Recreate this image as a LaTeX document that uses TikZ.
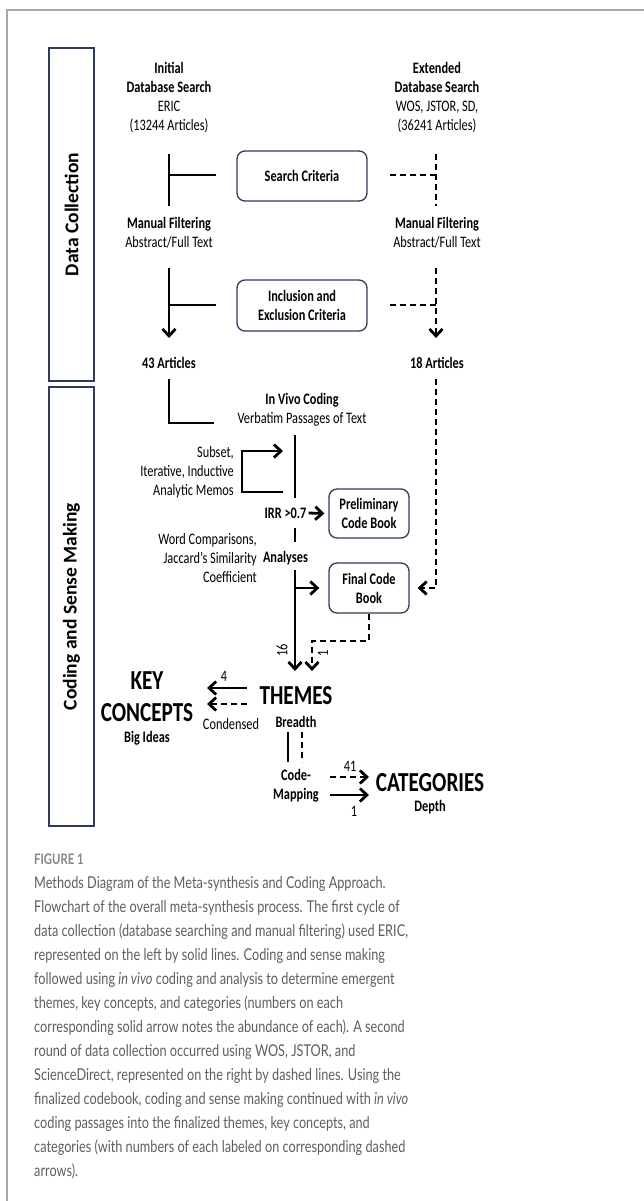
\documentclass[tikz,border=0pt]{standalone}
\usepackage{fontspec}
\setmainfont{Carlito}[FakeStretch=0.77]
\newfontfamily\sidefont{Carlito}
\newfontfamily\capfont{Lato}[FakeStretch=0.78]
\usetikzlibrary{arrows.meta,calc}
\definecolor{navy}{HTML}{2F3B5C}
\definecolor{capgray}{HTML}{5E5E5E}
\definecolor{figgray}{HTML}{858585}
\definecolor{framegray}{HTML}{A8A8A8}
\tikzset{
  txt/.style={font=\fontsize{16}{19}\selectfont, align=center, inner sep=0pt},
  bigtxt/.style={font=\fontsize{27.5}{32}\selectfont\bfseries, align=center, inner sep=0pt},
  cbox/.style={draw=navy, line width=1.3pt, rounded corners=8pt, font=\fontsize{16}{19}\selectfont\bfseries, align=center, inner sep=0pt},
  sidebox/.style={draw=navy, line width=1.3pt, font=\sidefont\fontsize{19.5}{22}\selectfont\bfseries, inner sep=0pt, rotate=90},
  ln/.style={line width=2.8pt},
  dl/.style={line width=2.8pt, dash pattern=on 6pt off 4pt},
  arr/.style={-{Straight Barb[length=7pt,width=13pt]}},
  captxt/.style={font=\capfont\fontsize{16.3}{24}\selectfont, text=capgray, anchor=base west, inner sep=0pt},
}
\begin{document}
\begin{tikzpicture}[x=1pt,y=-1pt]
\useasboundingbox (0,0) rectangle (644,1201);
\draw[framegray, line width=1.2pt] (7,1201) -- (7,10) -- (644,10);

% side boxes
\node[sidebox, minimum width=333pt, minimum height=45pt] (dc) at (71.5,214.5) {Data Collection};
\node[sidebox, minimum width=439pt, minimum height=45pt] (cs) at (71.5,606.5) {Coding and Sense Making};

% column texts
\node[txt] (init) at (169,97) {\textbf{Initial}\\\textbf{Database Search}\\ERIC\\(13244 Articles)};
\node[txt] (ext) at (437,97) {\textbf{Extended}\\\textbf{Database Search}\\WOS, JSTOR, SD,\\(36241 Articles)};
\node[txt] (mf1) at (169,233) {\textbf{Manual Filtering}\\Abstract/Full Text};
\node[txt] (mf2) at (437,233) {\textbf{Manual Filtering}\\Abstract/Full Text};
\node[cbox, minimum width=130pt, minimum height=50pt] (sc) at (302,176) {Search Criteria};
\node[cbox, minimum width=130pt, minimum height=51pt] (inc) at (302,305.5) {Inclusion and\\Exclusion Criteria};
\node[txt, font=\fontsize{16}{19}\selectfont\bfseries] (a43) at (169,363) {43 Articles};
\node[txt, font=\fontsize{16}{19}\selectfont\bfseries] (a18) at (437,363) {18 Articles};
\node[txt] (ivc) at (302,410) {\textbf{In Vivo Coding}\\Verbatim Passages of Text};
\node[txt, align=right, anchor=east] (memo) at (234,472) {Subset,\\Iterative, Inductive\\Analytic Memos};
\node[txt, font=\fontsize{16}{19}\selectfont\bfseries] (irr) at (285.5,513) {IRR >0.7};
\node[cbox, minimum width=80pt, minimum height=49pt] (pre) at (369,513.5) {Preliminary\\Code Book};
\node[txt, align=right, anchor=east] (wc) at (257,558) {Word Comparisons,\\Jaccard's Similarity\\Coefficient};
\node[txt, font=\fontsize{16}{19}\selectfont\bfseries] (ana) at (285.5,558) {Analyses};
\node[cbox, minimum width=80pt, minimum height=50pt] (fcb) at (369,588) {Final Code\\Book};
\node[bigtxt] (themes) at (296,696) {THEMES};
\node[txt, font=\fontsize{16}{19}\selectfont\bfseries] (breadth) at (296,722) {Breadth};
\node[bigtxt] (kc) at (147,697) {KEY\\CONCEPTS};
\node[txt, font=\fontsize{16}{19}\selectfont\bfseries] (bigideas) at (147,738) {Big Ideas};
\node[txt] (cond) at (231,724) {Condensed};
\node[txt] (four) at (224,676) {4};
\node[txt, font=\fontsize{16}{19}\selectfont\bfseries] (cmap) at (296,786) {Code-\\Mapping};
\node[bigtxt] (cat) at (430,783) {CATEGORIES};
\node[txt, font=\fontsize{16}{19}\selectfont\bfseries] (depth) at (430,807) {Depth};
\node[txt] (n41) at (350,766) {41};
\node[txt] (n1b) at (354,811) {1};
\node[txt, rotate=90] (n16) at (282,650) {16};
\node[txt, rotate=90] (n1a) at (323,653) {1};

% coordinates
\coordinate (l1t) at (169,154); \coordinate (l1b) at (169,206); \coordinate (l1m) at (169,175); \coordinate (l1e) at (216,175);
\coordinate (r1t) at (436,154); \coordinate (r1b) at (436,206); \coordinate (r1m) at (436,175); \coordinate (r1e) at (390,175);
\coordinate (l2t) at (169,268); \coordinate (l2b) at (169,338); \coordinate (l2m) at (169,305); \coordinate (l2e) at (216,305);
\coordinate (r2t) at (436,268); \coordinate (r2b) at (436,338); \coordinate (r2m) at (436,305); \coordinate (r2e) at (390,305);
\coordinate (l3t) at (169,379); \coordinate (l3c) at (169,423); \coordinate (l3e) at (214,423);
\coordinate (r3t) at (436,379); \coordinate (r3c) at (436,588);
\coordinate (c1t) at (295,435); \coordinate (c1b) at (295,498);
\coordinate (lpa) at (283,492); \coordinate (lpb) at (242,492); \coordinate (lpc) at (242,451); \coordinate (lpd) at (283,451);
\coordinate (c2t) at (295,528); \coordinate (c2b) at (295,542);
\coordinate (c3t) at (295,570); \coordinate (c3m) at (295,588); \coordinate (c3b) at (295,671);
\coordinate (fd1) at (369,641); \coordinate (fd2) at (312,641); \coordinate (fd3) at (312,671);
\coordinate (tk1) at (247,688); \coordinate (tk2) at (207,688);
\coordinate (tk3) at (247,704); \coordinate (tk4) at (207,704);
\coordinate (bs1) at (288,732); \coordinate (bs2) at (288,762);
\coordinate (bd1) at (302,732); \coordinate (bd2) at (302,762);
\coordinate (cd1) at (330,777); \coordinate (cd2) at (369,777);
\coordinate (cs1) at (330,795); \coordinate (cs2) at (369,795);

% connectors
\draw[ln] (l1t) -- (l1b); \draw[ln] (l1m) -- (l1e);
\draw[dl] (r1t) -- (r1b); \draw[dl] (r1e) -- (r1m);
\draw[ln,arr] (l2t) -- (l2b); \draw[ln] (l2m) -- (l2e);
\draw[dl,arr] (r2t) -- (r2b); \draw[dl] (r2e) -- (r2m);
\draw[ln] (l3t) -- (l3c) -- (l3e);
\draw[dl,arr] (r3t) -- (r3c) -- ($(fcb.east)+(8,0)$);
\draw[ln] (c1t) -- (c1b);
\draw[ln,arr] (lpa) -- (lpb) -- (lpc) -- (lpd);
\draw[ln,arr] ($(irr.east)+(2,0)$) -- ($(pre.west)+(-4,0)$);
\draw[ln] (c2t) -- (c2b);
\draw[ln,arr] (c3t) -- (c3b);
\draw[ln,arr] (c3m) -- ($(fcb.west)+(-9,0)$);
\draw[dl,arr] (fcb.south) -- (fd1) -- (fd2) -- (fd3);
\draw[ln,arr] (tk1) -- (tk2);
\draw[dl,arr] (tk3) -- (tk4);
\draw[ln] (bs1) -- (bs2);
\draw[dl] (bd1) -- (bd2);
\draw[dl,arr] (cd1) -- (cd2);
\draw[ln,arr] (cs1) -- (cs2);

% caption
\node[font=\capfont\bfseries\fontsize{14.5}{17}\selectfont, text=figgray, anchor=base west, inner sep=0pt] (fig) at (34,864.5) {FIGURE 1};
\node[captxt] (c01) at (34,888) {Methods Diagram of the Meta-synthesis and Coding Approach.};
\node[captxt] (c02) at (34,912) {Flowchart of the overall meta-synthesis process. The first cycle of};
\node[captxt] (c03) at (34,936) {data collection (database searching and manual filtering) used ERIC,};
\node[captxt] (c04) at (34,960) {represented on the left by solid lines. Coding and sense making};
\node[captxt] (c05) at (34,984) {followed using \textit{in vivo} coding and analysis to determine emergent};
\node[captxt] (c06) at (34,1008) {themes, key concepts, and categories (numbers on each};
\node[captxt] (c07) at (34,1032) {corresponding solid arrow notes the abundance of each). A second};
\node[captxt] (c08) at (34,1056) {round of data collection occurred using WOS, JSTOR, and};
\node[captxt] (c09) at (34,1080) {ScienceDirect, represented on the right by dashed lines. Using the};
\node[captxt] (c10) at (34,1104) {finalized codebook, coding and sense making continued with \textit{in vivo}};
\node[captxt] (c11) at (34,1128) {coding passages into the finalized themes, key concepts, and};
\node[captxt] (c12) at (34,1152) {categories (with numbers of each labeled on corresponding dashed};
\node[captxt] (c13) at (34,1176) {arrows).};
\end{tikzpicture}
\end{document}
